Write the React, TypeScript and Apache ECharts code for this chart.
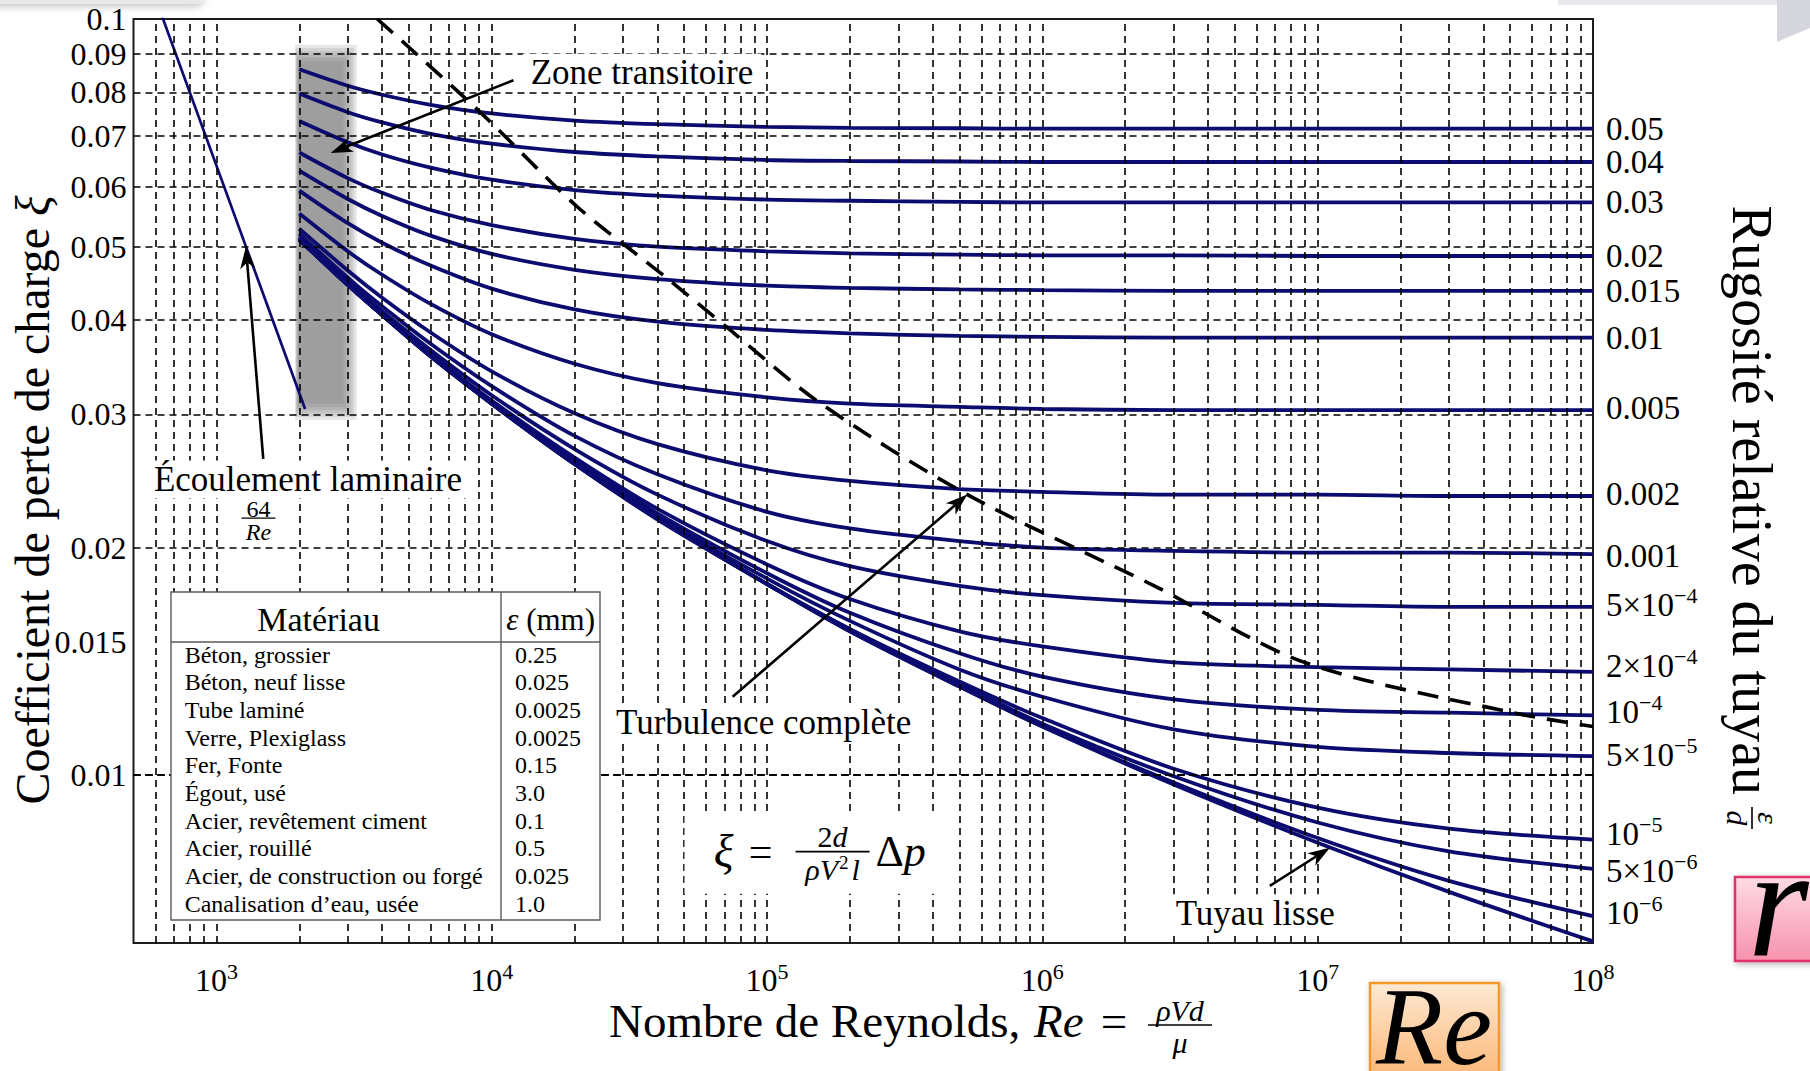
import React, { useEffect, useRef } from "react";
import * as echarts from "echarts";

const SERIF = "'Liberation Serif', 'Times New Roman', serif";
const NAVY = "#0b0b70";
const INK = "#000";

// Reynolds numbers at which each roughness curve is sampled
const REYNOLDS = [2000, 3000, 4000, 6000, 1e4, 2e4, 4e4, 1e5, 2e5, 5e5, 1e6, 3e6, 1e7, 3e7, 1e8];

// Loss coefficient ξ along each relative-roughness curve ε/d
const XI_R050 = [0.0858, 0.0816, 0.0794, 0.077, 0.075, 0.0734, 0.0726, 0.072, 0.0718, 0.0717, 0.0716, 0.0716, 0.0716, 0.0716, 0.0716];
const XI_R040 = [0.0797, 0.0753, 0.073, 0.0705, 0.0684, 0.0667, 0.0658, 0.0651, 0.0649, 0.0648, 0.0647, 0.0647, 0.0647, 0.0647, 0.0647];
const XI_R030 = [0.0733, 0.0687, 0.0662, 0.0636, 0.0613, 0.0594, 0.0584, 0.0577, 0.0575, 0.0573, 0.0572, 0.0572, 0.0572, 0.0572, 0.0572];
const XI_R020 = [0.0666, 0.0616, 0.0589, 0.0559, 0.0534, 0.0512, 0.05, 0.0493, 0.049, 0.0488, 0.0487, 0.0487, 0.0486, 0.0486, 0.0486];
const XI_R015 = [0.063, 0.0578, 0.0549, 0.0517, 0.0489, 0.0466, 0.0453, 0.0444, 0.0441, 0.0439, 0.0438, 0.0437, 0.0437, 0.0437, 0.0437];
const XI_R010 = [0.0593, 0.0537, 0.0506, 0.0472, 0.044, 0.0413, 0.0398, 0.0388, 0.0384, 0.0381, 0.038, 0.0379, 0.0379, 0.0379, 0.0379];
const XI_R005 = [0.0553, 0.0493, 0.0459, 0.042, 0.0383, 0.035, 0.033, 0.0316, 0.031, 0.0307, 0.0305, 0.0304, 0.0304, 0.0304, 0.0304];
const XI_R002 = [0.0528, 0.0465, 0.0428, 0.0385, 0.0342, 0.0301, 0.0274, 0.0253, 0.0245, 0.0239, 0.0237, 0.0235, 0.0235, 0.0234, 0.0234];
const XI_R001 = [0.052, 0.0455, 0.0417, 0.0372, 0.0327, 0.0281, 0.025, 0.0223, 0.0212, 0.0204, 0.02, 0.0198, 0.0197, 0.0197, 0.0196];
const XI_R5E4 = [0.0515, 0.045, 0.0411, 0.0365, 0.0318, 0.027, 0.0235, 0.0204, 0.0189, 0.0178, 0.0173, 0.0169, 0.0168, 0.0167, 0.0167];
const XI_R2E4 = [0.0513, 0.0447, 0.0408, 0.0361, 0.0313, 0.0263, 0.0225, 0.019, 0.0171, 0.0155, 0.0148, 0.0141, 0.0139, 0.0138, 0.0137];
const XI_R1E4 = [0.0512, 0.0446, 0.0407, 0.036, 0.0311, 0.0261, 0.0222, 0.0185, 0.0164, 0.0145, 0.0135, 0.0126, 0.0122, 0.0121, 0.012];
const XI_R5E5 = [0.0511, 0.0445, 0.0406, 0.0359, 0.0311, 0.0259, 0.022, 0.0182, 0.016, 0.0138, 0.0127, 0.0115, 0.0109, 0.0107, 0.0106];
const XI_R1E5 = [0.0511, 0.0445, 0.0406, 0.0358, 0.031, 0.0258, 0.0219, 0.0179, 0.0156, 0.0133, 0.0119, 0.0102, 0.00906, 0.0085, 0.00822];
const XI_R5E6 = [0.0511, 0.0445, 0.0406, 0.0358, 0.031, 0.0258, 0.0219, 0.0179, 0.0156, 0.0132, 0.0117, 0.00997, 0.00866, 0.00793, 0.00752];
const XI_R1E6 = [0.0511, 0.0445, 0.0406, 0.0358, 0.031, 0.0258, 0.0218, 0.0179, 0.0155, 0.0131, 0.0116, 0.00978, 0.00826, 0.00725, 0.00651];
const XI_SMOOTH = [0.0511, 0.0445, 0.0406, 0.0358, 0.031, 0.0258, 0.0218, 0.0179, 0.0155, 0.0131, 0.0116, 0.00972, 0.00814, 0.00701, 0.00603];

// Right-hand labels (rich text: m = mantissa, s = exponent); dy nudges crowded labels
const CURVES = [
  { label: "0.05", xi: XI_R050, dy: 0 },
  { label: "0.04", xi: XI_R040, dy: 0 },
  { label: "0.03", xi: XI_R030, dy: 0 },
  { label: "0.02", xi: XI_R020, dy: 0 },
  { label: "0.015", xi: XI_R015, dy: 0 },
  { label: "0.01", xi: XI_R010, dy: 0 },
  { label: "0.005", xi: XI_R005, dy: -2 },
  { label: "0.002", xi: XI_R002, dy: -2 },
  { label: "0.001", xi: XI_R001, dy: 2 },
  { label: "{m|5×10}{s|−4}", xi: XI_R5E4, dy: -2 },
  { label: "{m|2×10}{s|−4}", xi: XI_R2E4, dy: -6 },
  { label: "{m|10}{s|−4}", xi: XI_R1E4, dy: -3 },
  { label: "{m|5×10}{s|−5}", xi: XI_R5E5, dy: -1 },
  { label: "{m|10}{s|−5}", xi: XI_R1E5, dy: -6 },
  { label: "{m|5×10}{s|−6}", xi: XI_R5E6, dy: 2 },
  { label: "{m|10}{s|−6}", xi: XI_R1E6, dy: -3 },
  { label: "", xi: XI_SMOOTH, dy: 0 },
];

// Laminar branch ξ = 64/Re
const LAMINAR_RE = [600, 2100];
const LAMINAR_XI = [0.1067, 0.0305];

// Onset of complete turbulence (dashed)
const BOUNDARY_RE = [3840, 8980, 20400, 42100, 71600, 155000, 534000, 2550000, 8960000, 51000000, 100000000];
const BOUNDARY_XI = [0.1, 0.0756, 0.0565, 0.0458, 0.0391, 0.0311, 0.0235, 0.0178, 0.0141, 0.0121, 0.0116];

// Transition band between laminar and turbulent flow
const TRANSITION_RE = [1980, 2900];
const TRANSITION_XI = [0.031, 0.088];

// Axis ranges and ticks
const RE_MIN = 500;
const RE_MAX = 1e8;
const XI_MIN = 0.006;
const XI_MAX = 0.1;
const X_TICKS = [1e3, 1e4, 1e5, 1e6, 1e7, 1e8];
const X_TICK_EXP = ["3", "4", "5", "6", "7", "8"];
const Y_TICKS = [0.1, 0.09, 0.08, 0.07, 0.06, 0.05, 0.04, 0.03, 0.02, 0.015, 0.01];
const Y_TICK_LABELS = ["0.1", "0.09", "0.08", "0.07", "0.06", "0.05", "0.04", "0.03", "0.02", "0.015", "0.01"];
const Y_GRID = [0.007, 0.008, 0.009, 0.01, 0.015, 0.02, 0.03, 0.04, 0.05, 0.06, 0.07, 0.08, 0.09];
const X_GRID_MANTISSA = [1, 2, 3, 4, 5, 6, 7, 8, 9];
const X_GRID_DECADES = [100, 1e3, 1e4, 1e5, 1e6, 1e7];

// Roughness table
const MATERIALS = [
  "Béton, grossier",
  "Béton, neuf lisse",
  "Tube laminé",
  "Verre, Plexiglass",
  "Fer, Fonte",
  "Égout, usé",
  "Acier, revêtement ciment",
  "Acier, rouillé",
  "Acier, de construction ou forgé",
  "Canalisation d’eau, usée",
];
const ROUGHNESS_MM = ["0.25", "0.025", "0.0025", "0.0025", "0.15", "3.0", "0.1", "0.5", "0.025", "1.0"];

// Annotations, anchored in (Re, ξ)
const NOTES = [
  { text: "Zone transitoire", at: [12960, 0.0849], align: "left" },
  { text: "Écoulement laminaire", at: [2150, 0.0246], align: "center" },
  { text: "Turbulence complète", at: [97200, 0.01173], align: "center" },
  { text: "Tuyau lisse", at: [5935000, 0.00657], align: "center" },
];
const ARROWS = [
  { from: [12000, 0.083], to: [2600, 0.0665] },
  { from: [1480, 0.0262], to: [1280, 0.05] },
  { from: [75000, 0.0127], to: [534000, 0.0235] },
  { from: [6700000, 0.00714], to: [11080000, 0.00802] },
];
const LAMINAR_NOTE_AT = [1422, 0.02188];
const FORMULA_AT = [159100, 0.0079];

function xGridValues() {
  const out: number[] = [];
  X_GRID_DECADES.forEach((d) =>
    X_GRID_MANTISSA.forEach((m) => {
      const v = m * d;
      if (v > RE_MIN && v < RE_MAX) out.push(v);
    })
  );
  return out;
}

// soft-edged band: a few stacked translucent rectangles, each a little larger
function transitionLayers() {
  const spread = [0, 1, 2, 3, 4, 5];
  return spread.map((k) => [
    {
      coord: [TRANSITION_RE[0] / Math.pow(1.005, k), TRANSITION_XI[1] * Math.pow(1.01, k)],
      itemStyle: { color: "rgba(115,115,115,0.17)" },
    },
    { coord: [TRANSITION_RE[1] * Math.pow(1.022, k), TRANSITION_XI[0] / Math.pow(1.01, k)] },
  ]);
}

function supRich(base: number, sup: number) {
  return {
    m: { fontSize: base, fontFamily: SERIF, fill: INK, lineHeight: Math.round(base * 1.25) },
    s: { fontSize: sup, fontFamily: SERIF, fill: INK, verticalAlign: "top", lineHeight: sup },
    i: { fontSize: base, fontFamily: SERIF, fontStyle: "italic", fill: INK },
  };
}

function text(x: number, y: number, str: string, extra: any = {}, z = 20) {
  return {
    type: "text",
    x,
    y,
    z,
    silent: true,
    style: {
      text: str,
      fill: INK,
      fontFamily: SERIF,
      fontSize: 32,
      align: "left",
      verticalAlign: "middle",
      ...extra,
    },
  };
}

function arrow(p0: number[], p1: number[]) {
  const dx = p1[0] - p0[0];
  const dy = p1[1] - p0[1];
  const len = Math.hypot(dx, dy);
  const ux = dx / len;
  const uy = dy / len;
  const nx = -uy;
  const ny = ux;
  const L = 22;
  const W = 7.5;
  const notch = 16;
  const base = [p1[0] - ux * L, p1[1] - uy * L];
  const back = [p1[0] - ux * notch, p1[1] - uy * notch];
  return [
    {
      type: "line",
      z: 30,
      silent: true,
      shape: { x1: p0[0], y1: p0[1], x2: back[0], y2: back[1] },
      style: { stroke: INK, lineWidth: 2.6 },
    },
    {
      type: "polygon",
      z: 30,
      silent: true,
      shape: {
        points: [
          [p1[0], p1[1]],
          [base[0] + nx * W, base[1] + ny * W],
          [back[0], back[1]],
          [base[0] - nx * W, base[1] - ny * W],
        ],
      },
      style: { fill: INK },
    },
  ];
}

function baseOption() {
  const curveSeries = CURVES.map((c, k) => ({
    type: "line",
    name: "curve" + k,
    data: REYNOLDS.map((re, i) => [re, c.xi[i]]),
    smooth: 0.3,
    showSymbol: false,
    symbol: "none",
    silent: true,
    clip: true,
    z: 3,
    lineStyle: { color: NAVY, width: 3.8 },
  }));
  return {
    animation: false,
    backgroundColor: "#fff",
    grid: {
      left: 133.5,
      top: 19,
      right: 217,
      bottom: 128,
      show: true,
      borderColor: "#1c1c1c",
      borderWidth: 2,
      backgroundColor: "transparent",
    },
    xAxis: {
      type: "log",
      logBase: 10,
      min: RE_MIN,
      max: RE_MAX,
      axisLine: { show: false },
      axisTick: { show: false },
      axisLabel: { show: false },
      splitLine: { show: false },
    },
    yAxis: {
      type: "log",
      logBase: 10,
      min: XI_MIN,
      max: XI_MAX,
      axisLine: { show: false },
      axisTick: { show: false },
      axisLabel: { show: false },
      splitLine: { show: false },
    },
    series: [
      {
        type: "line",
        data: [],
        z: 1,
        silent: true,
        markArea: {
          silent: true,
          itemStyle: { color: "rgba(115,115,115,0.17)" },
          data: transitionLayers(),
        },
      },
      {
        type: "line",
        data: [],
        z: 2,
        silent: true,
        markLine: {
          silent: true,
          symbol: ["none", "none"],
          label: { show: false },
          lineStyle: { color: INK, width: 1.6, type: [7, 5] },
          data: [
            ...xGridValues().map((v) => ({ xAxis: v })),
            ...Y_GRID.map((v) => ({ yAxis: v })),
          ],
        },
      },
      ...curveSeries,
      {
        type: "line",
        data: LAMINAR_RE.map((re, i) => [re, LAMINAR_XI[i]]),
        showSymbol: false,
        symbol: "none",
        silent: true,
        clip: true,
        z: 3,
        lineStyle: { color: NAVY, width: 2.7 },
      },
      {
        type: "line",
        data: BOUNDARY_RE.map((re, i) => [re, BOUNDARY_XI[i]]),
        smooth: 0.3,
        showSymbol: false,
        symbol: "none",
        silent: true,
        clip: true,
        z: 4,
        lineStyle: { color: INK, width: 3.6, type: [21, 12] },
      },
    ],
  };
}

function graphics(toPx: (p: number[]) => number[]) {
  const g: any[] = [];
  const [left] = toPx([RE_MIN, XI_MAX]);
  const [, bottom] = toPx([RE_MAX, XI_MIN]);

  // slide decorations along the top edge
  g.push({
    type: "rect",
    z: 5,
    silent: true,
    shape: { x: -20, y: -20, width: 223, height: 24, r: 6 },
    style: { fill: "#e8e8e8", shadowBlur: 8, shadowColor: "rgba(0,0,0,0.25)", shadowOffsetY: 2 },
  });
  g.push({
    type: "rect",
    z: 5,
    silent: true,
    shape: { x: 1558, y: -10, width: 260, height: 15 },
    style: { fill: "#e7e7ec" },
  });
  g.push({
    type: "polygon",
    z: 5,
    silent: true,
    shape: { points: [[1777, 0], [1810, 0], [1810, 28], [1777, 42]] },
    style: { fill: "#d6d6de" },
  });

  // y tick labels
  Y_TICKS.forEach((v, i) => {
    const [, y] = toPx([RE_MIN, v]);
    g.push(text(left - 7, y, Y_TICK_LABELS[i], { align: "right", fontSize: 32 }));
  });

  // x tick labels
  X_TICKS.forEach((v, i) => {
    const [x] = toPx([v, XI_MIN]);
    g.push(
      text(x, bottom + 37, `{m|10}{s|${X_TICK_EXP[i]}}`, {
        align: "center",
        rich: supRich(32, 22),
      })
    );
  });

  // roughness labels at the right end of each curve
  CURVES.forEach((c) => {
    if (!c.label) return;
    const [x, y] = toPx([REYNOLDS[REYNOLDS.length - 1], c.xi[c.xi.length - 1]]);
    g.push(text(x + 13, y + c.dy, c.label, { fontSize: 33, rich: supRich(33, 22) }));
  });

  // x axis title
  g.push(text(609, 1021, "Nombre de Reynolds,", { fontSize: 47 }));
  g.push(text(1034, 1021, "Re", { fontSize: 47, fontStyle: "italic" }));
  g.push(text(1114, 1021, "=", { fontSize: 47, align: "center" }));
  g.push(text(1180, 1010, "ρVd", { fontSize: 30, fontStyle: "italic", align: "center" }));
  g.push({
    type: "line",
    z: 20,
    silent: true,
    shape: { x1: 1148, y1: 1025, x2: 1212, y2: 1025 },
    style: { stroke: INK, lineWidth: 1.6 },
  });
  g.push(text(1180, 1042, "μ", { fontSize: 30, fontStyle: "italic", align: "center", lineHeight: 30 }));

  // left axis title
  g.push({
    ...text(32, 500, "Coefficient de perte de charge {i|ξ}", {
      fontSize: 48,
      align: "center",
      rich: { i: { fontSize: 48, fontFamily: SERIF, fontStyle: "italic", fill: INK } },
    }),
    rotation: Math.PI / 2,
  });

  // right axis title with ε/d
  g.push({
    type: "group",
    x: 1752,
    y: 0,
    rotation: -Math.PI / 2,
    z: 20,
    children: [
      text(795, 0, "Rugosité relative du tuyau", { fontSize: 56, align: "right" }),
      text(818, -16, "ε", { fontSize: 30, fontStyle: "italic", align: "center" }),
      {
        type: "line",
        z: 20,
        silent: true,
        shape: { x1: 807, y1: 0, x2: 829, y2: 0 },
        style: { stroke: INK, lineWidth: 1.6 },
      },
      text(818, 15, "d", { fontSize: 30, fontStyle: "italic", align: "center" }),
    ],
  });

  // text notes with white boxes
  NOTES.forEach((n) => {
    const [x, y] = toPx(n.at);
    g.push(
      text(
        x,
        y,
        n.text,
        {
          fontSize: 35,
          align: n.align,
          backgroundColor: "#fff",
          padding: [4, 8, 0, 8],
          lineHeight: 34,
        },
        22
      )
    );
  });

  // 64/Re under the laminar note
  {
    const [x, y] = toPx(LAMINAR_NOTE_AT);
    g.push(text(x, y - 9, "64", { fontSize: 24, align: "center", lineHeight: 17 }, 23));
    g.push({
      type: "line",
      z: 23,
      silent: true,
      shape: { x1: x - 17, y1: y, x2: x + 17, y2: y },
      style: { stroke: INK, lineWidth: 1.2 },
    });
    g.push(text(x, y + 14, "Re", { fontSize: 24, align: "center", fontStyle: "italic", lineHeight: 20 }, 23));
  }

  // pressure-loss definition
  {
    const [cx, cy] = toPx(FORMULA_AT);
    g.push({
      type: "rect",
      z: 22,
      silent: true,
      shape: { x: cx - 138, y: cy - 39, width: 273, height: 80 },
      style: { fill: "#fff" },
    });
    g.push(text(cx - 99, cy - 1, "ξ", { fontSize: 46, fontStyle: "italic", align: "center" }, 23));
    g.push(text(cx - 62, cy - 1, "=", { fontSize: 42, align: "center" }, 23));
    g.push({
      type: "line",
      z: 23,
      silent: true,
      shape: { x1: cx - 27, y1: cy - 1, x2: cx + 47, y2: cy - 1 },
      style: { stroke: INK, lineWidth: 1.6 },
    });
    g.push(
      text(cx + 10, cy - 16, "2{i|d}", {
        fontSize: 30,
        align: "center",
        rich: { i: { fontSize: 30, fontFamily: SERIF, fontStyle: "italic", fill: INK } },
      }, 23)
    );
    g.push(
      text(cx + 10, cy + 17, "{i|ρV}{s|2}{i|l}", {
        fontSize: 30,
        align: "center",
        rich: {
          i: { fontSize: 30, fontFamily: SERIF, fontStyle: "italic", fill: INK, lineHeight: 34 },
          s: { fontSize: 19, fontFamily: SERIF, fill: INK, verticalAlign: "top", lineHeight: 19, padding: [0, 3, 0, 1] },
        },
      }, 23)
    );
    g.push(
      text(cx + 53, cy - 1, "Δ{i|p}", {
        fontSize: 44,
        rich: { i: { fontSize: 44, fontFamily: SERIF, fontStyle: "italic", fill: INK } },
      }, 23)
    );
  }

  // roughness table
  {
    const tx = 171;
    const ty = 592;
    const tw = 429;
    const th = 328;
    const split = 501;
    const headBottom = 642;
    g.push(
      {
        type: "rect",
        z: 24,
        silent: true,
        shape: { x: tx, y: ty, width: tw, height: th },
        style: { fill: "#fff", stroke: "#5a5a5a", lineWidth: 1.4 },
      },
      {
        type: "line",
        z: 24,
        silent: true,
        shape: { x1: split, y1: ty, x2: split, y2: ty + th },
        style: { stroke: "#5a5a5a", lineWidth: 1.4 },
      },
      {
        type: "line",
        z: 24,
        silent: true,
        shape: { x1: tx, y1: headBottom, x2: tx + tw, y2: headBottom },
        style: { stroke: "#5a5a5a", lineWidth: 1.4 },
      },
      text(318.6, 619, "Matériau", { fontSize: 34, align: "center" }, 25),
      text(550.6, 619, "{i|ε} (mm)", {
        fontSize: 31,
        align: "center",
        rich: { i: { fontSize: 31, fontFamily: SERIF, fontStyle: "italic", fill: INK } },
      }, 25)
    );
    MATERIALS.forEach((m, i) => {
      const y = 654.5 + i * 27.7;
      g.push(text(184.7, y, m, { fontSize: 24, lineHeight: 26 }, 25));
      g.push(text(515, y, ROUGHNESS_MM[i], { fontSize: 24, lineHeight: 26 }, 25));
    });
  }

  // arrows
  ARROWS.forEach((a) => {
    g.push(...arrow(toPx(a.from), toPx(a.to)));
  });

  // symbol badges at the bottom right
  g.push({
    type: "rect",
    z: 26,
    silent: true,
    shape: { x: 1370, y: 983, width: 129, height: 110 },
    style: {
      fill: new echarts.graphic.LinearGradient(0, 0, 0, 1, [
        { offset: 0, color: "#fee9d4" },
        { offset: 1, color: "#fbb068" },
      ]),
      stroke: "#f4982c",
      lineWidth: 2.5,
      shadowBlur: 6,
      shadowColor: "rgba(0,0,0,0.3)",
      shadowOffsetX: 2,
      shadowOffsetY: 2,
    },
  });
  g.push(text(1434, 1027, "Re", { fontSize: 110, fontStyle: "italic", align: "center", lineHeight: 76 }, 27));
  g.push({
    type: "rect",
    z: 26,
    silent: true,
    shape: { x: 1735, y: 877, width: 100, height: 84 },
    style: {
      fill: new echarts.graphic.LinearGradient(0, 0, 0, 1, [
        { offset: 0, color: "#ffdbe4" },
        { offset: 1, color: "#f692ae" },
      ]),
      stroke: "#e2306a",
      lineWidth: 2.5,
      shadowBlur: 6,
      shadowColor: "rgba(0,0,0,0.3)",
      shadowOffsetX: 2,
      shadowOffsetY: 2,
    },
  });
  g.push(text(1748, 902, "r", { fontSize: 156, fontStyle: "italic", lineHeight: 78 }, 27));

  return g;
}

export default function App() {
  const ref = useRef<HTMLDivElement>(null);
  useEffect(() => {
    const el = ref.current;
    if (!el) return;
    const chart = echarts.init(el, null, { renderer: "svg" });
    chart.setOption(baseOption() as any);
    const toPx = (p: number[]) => chart.convertToPixel({ gridIndex: 0 }, p) as number[];
    chart.setOption({ graphic: graphics(toPx) } as any);
    return () => chart.dispose();
  }, []);
  return (
    <div
      ref={ref}
      style={{ position: "fixed", left: 0, top: 0, width: 1810, height: 1071, background: "#fff" }}
    />
  );
}
